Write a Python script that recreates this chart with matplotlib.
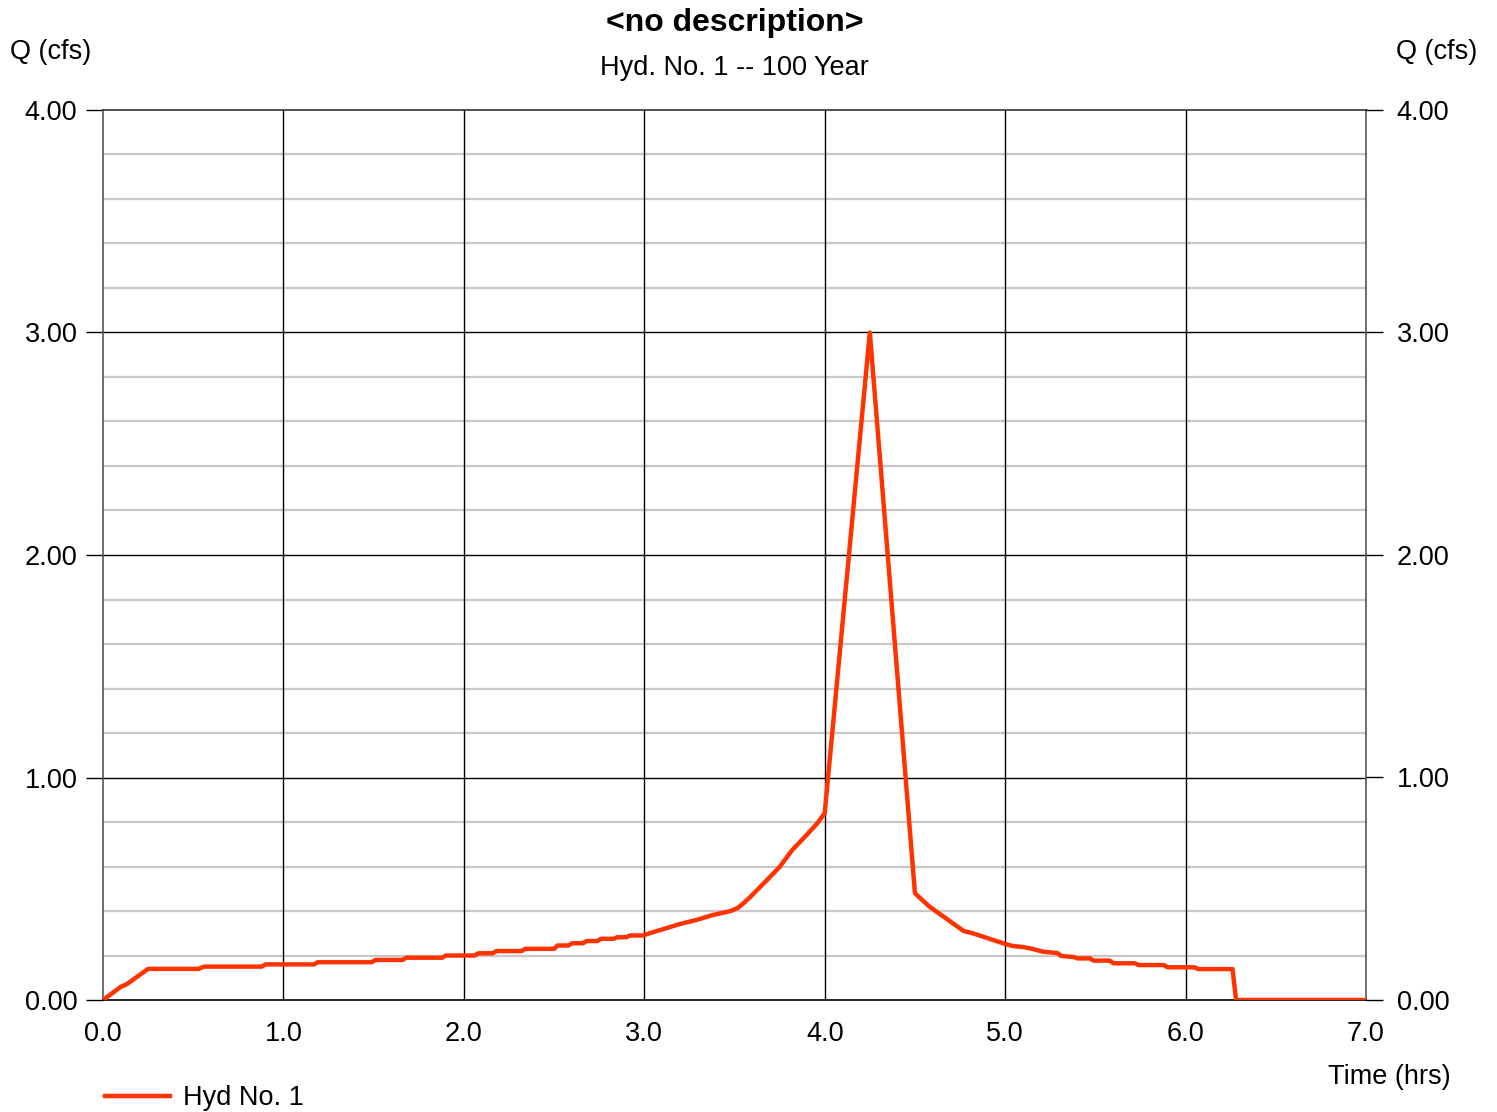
import numpy as np
import matplotlib.pyplot as plt

plt.rcParams['font.family'] = ['Liberation Sans', 'DejaVu Sans']

# hydrograph vertices (hrs, cfs)
time_hrs = [0.00, 0.10, 0.13, 0.25, 0.53, 0.56, 0.88, 0.90, 1.17, 1.19,
            1.49, 1.51, 1.66, 1.68, 1.88, 1.90, 2.06, 2.08, 2.16, 2.18,
            2.32, 2.34, 2.50, 2.52, 2.58, 2.60, 2.66, 2.68, 2.74, 2.76,
            2.83, 2.85, 2.90, 2.92, 2.99, 3.09, 3.20, 3.29, 3.38, 3.48,
            3.52, 3.55, 3.59, 3.62, 3.68, 3.75, 3.82, 3.90, 3.96, 4.00,
            4.25, 4.50, 4.58, 4.77, 4.82, 5.00, 5.04, 5.10, 5.15, 5.21,
            5.29, 5.31, 5.38, 5.40, 5.47, 5.49, 5.58, 5.60, 5.72, 5.74,
            5.88, 5.90, 6.05, 6.07, 6.26, 6.28, 7.00]
flow_cfs = [0.00, 0.06, 0.07, 0.14, 0.14, 0.15, 0.15, 0.16, 0.16, 0.17,
            0.17, 0.18, 0.18, 0.19, 0.19, 0.20, 0.20, 0.21, 0.21, 0.22,
            0.22, 0.23, 0.23, 0.245, 0.245, 0.255, 0.255, 0.265, 0.265, 0.275,
            0.275, 0.282, 0.282, 0.29, 0.29, 0.315, 0.342, 0.36, 0.382, 0.40,
            0.415, 0.435, 0.465, 0.49, 0.539, 0.598, 0.674, 0.742, 0.795, 0.84,
            3.00, 0.48, 0.42, 0.31, 0.30, 0.252, 0.243, 0.238, 0.23, 0.217,
            0.211, 0.198, 0.193, 0.187, 0.187, 0.177, 0.177, 0.165, 0.165, 0.157,
            0.157, 0.147, 0.147, 0.139, 0.139, 0.00, 0.00]

x_ticks = [0, 1, 2, 3, 4, 5, 6, 7]
y_ticks = [0, 1, 2, 3, 4]

fig = plt.figure(figsize=(14.97, 11.12), dpi=100)
ax = fig.add_axes([103/1497, 1 - 1000/1112, 1263/1497, 890/1112])

# grid
for v in np.arange(0.2, 4.0, 0.2):
    if abs(v - round(v)) > 1e-6:
        ax.axhline(v, color='#c8c8c8', lw=1.6, zorder=1)
for v in y_ticks[1:-1]:
    ax.axhline(v, color='black', lw=1.0, zorder=1)
for v in x_ticks[1:-1]:
    ax.axvline(v, color='black', lw=1.0, zorder=1)

ax.plot(time_hrs, flow_cfs, color='#ff3300', lw=3.2, zorder=3,
        solid_joinstyle='round', label='Hyd No. 1')

ax.set_xlim(0, 7)
ax.set_ylim(0, 4)
for s in ax.spines.values():
    s.set_color('#555555')
    s.set_linewidth(1.2)
ax.spines['top'].set_color('#333333')
ax.spines['bottom'].set_color('black')

ax.set_xticks(x_ticks)
ax.set_xticklabels([f'{v:.1f}' for v in x_ticks])
ax.set_yticks(y_ticks)
ax.set_yticklabels([f'{v:.2f}' for v in y_ticks])
ax.tick_params(axis='x', length=0, labelsize=19.5, pad=15)
ax.tick_params(axis='y', length=12, width=1.0, labelsize=19.5, pad=6.5,
               color='black')

# right-hand axis copy
ax2 = ax.twinx()
ax2.set_ylim(0, 4)
ax2.set_yticks(y_ticks)
ax2.set_yticklabels([f'{v:.2f}' for v in y_ticks])
ax2.tick_params(axis='y', length=12, width=1.0, labelsize=19.5, pad=10,
                color='black')
for s in ax2.spines.values():
    s.set_visible(False)

fig.text(735/1497, 1 - 23/1112, '<no description>', ha='center', va='center',
         fontsize=23, fontweight='bold')
fig.text(734/1497, 1 - 68/1112, 'Hyd. No. 1 -- 100 Year', ha='center',
         va='center', fontsize=19.5)
fig.text(10/1497, 1 - 52/1112, 'Q (cfs)', ha='left', va='center', fontsize=19.5)
fig.text(1477/1497, 1 - 52/1112, 'Q (cfs)', ha='right', va='center', fontsize=19.5)
fig.text(1451/1497, 1 - 1077/1112, 'Time (hrs)', ha='right', va='center',
         fontsize=19.5)

leg = fig.legend(loc='center left', bbox_to_anchor=(81/1497, 1 - 1098/1112),
                 frameon=False, fontsize=19.5, handlelength=2.4, handletextpad=0.45)

fig.savefig('out.png', dpi=100)
